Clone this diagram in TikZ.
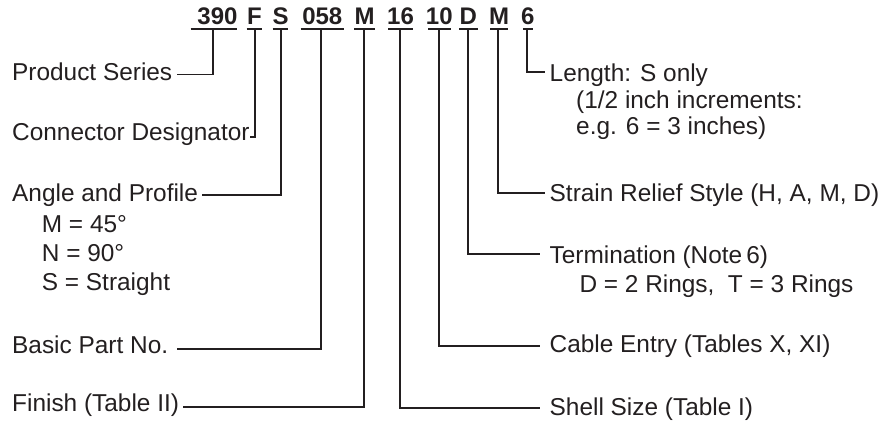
\documentclass[tikz,border=0pt]{standalone}
\usepackage{fontspec}
\setmainfont{Liberation Sans}
\definecolor{ink}{HTML}{231F20}
\begin{document}
\begin{tikzpicture}[x=1pt,y=-1pt,
  code/.style={inner sep=0pt,anchor=base,font=\fontsize{24}{26}\selectfont\bfseries,text=ink},
  lbl/.style={inner sep=0pt,anchor=base west,font=\fontsize{24.4}{28}\selectfont,text=ink},
  uline/.style={draw=ink,line width=1.9pt},
  conn/.style={draw=ink,line width=1.9pt}]
\useasboundingbox (0,0) rectangle (891,422);
% code segments
\node[code] (c390) at (217.5,25) {390};
\node[code] (cF)   at (254.5,25) {F};
\node[code] (cS)   at (280.5,25) {S};
\node[code] (c058) at (322.3,25) {058};
\node[code] (cM)   at (364.5,25) {M};
\node[code] (c16)  at (400.5,25) {16};
\node[code] (c10)  at (439.3,25) {10};
\node[code] (cD)   at (468.3,25) {D};
\node[code] (cM2)  at (499.2,25) {M};
\node[code] (c6)   at (527.8,25) {6};
% underlines
\draw[uline] (190.7,29) -- (237.3,29);
\draw[uline] (246.7,29) -- (262.3,29);
\draw[uline] (272.7,29) -- (288.3,29);
\draw[uline] (300.7,29) -- (344,29);
\draw[uline] (354,29) -- (375,29);
\draw[uline] (388,29) -- (413,29);
\draw[uline] (428,29) -- (450.7,29);
\draw[uline] (459,29) -- (477.7,29);
\draw[uline] (490,29) -- (508.3,29);
\draw[uline] (523,29) -- (532.7,29);
% connector start points
\coordinate (s390) at (213.3,29);
\coordinate (sF)   at (254.7,29);
\coordinate (sS)   at (280.7,29);
\coordinate (s058) at (320.7,29);
\coordinate (sM)   at (364.3,29);
\coordinate (s16)  at (400.3,29);
\coordinate (s10)  at (439.3,29);
\coordinate (sD)   at (468.3,29);
\coordinate (sM2)  at (498.3,29);
\coordinate (s6)   at (526.7,29);
% labels left
\node[lbl] (ps) at (12,80.7) {Product Series};
\node[lbl] (cd) at (12,140.5) {Connector Designator};
\node[lbl] (ap) at (12,201.7) {Angle and Profile};
\node[lbl] (ap1) at (41.7,232.5) {M = 45°};
\node[lbl] (ap2) at (41.7,261.7) {N = 90°};
\node[lbl] (ap3) at (41.7,290.5) {S = Straight};
\node[lbl] (bp) at (12,353.3) {Basic Part No.};
\node[lbl] (fi) at (12,411.7) {Finish (Table II)};
% labels right
\node[lbl] (le) at (549.5,82) {Length: S only};
\node[lbl] (le1) at (576,108.5) {(1/2 inch increments:};
\node[lbl] (le2) at (576,135) {e.g. 6 = 3 inches)};
\node[lbl] (sr) at (549.5,201.7) {Strain Relief Style (H, A, M, D)};
\node[lbl] (te) at (549.5,263.3) {Termination (Note\,6)};
\node[lbl] (te1) at (579.3,292.7) {D = 2 Rings,\ \ T = 3 Rings};
\node[lbl] (ce) at (549.5,352.3) {Cable Entry (Tables X, XI)};
\node[lbl] (ss) at (549.5,415) {Shell Size (Table I)};
% connector ends
\coordinate (eps) at (176.7,74.5);
\coordinate (ecd) at (250,136.7);
\coordinate (eap) at (202.3,195);
\coordinate (ebp) at (176.7,349);
\coordinate (efi) at (183,406.7);
\coordinate (ess) at (540,407.7);
\coordinate (ece) at (540,346);
\coordinate (ete) at (540,254.3);
\coordinate (esr) at (545,193.3);
\coordinate (ele) at (545,72.3);
% connectors
\draw[conn] (s390) |- (eps);
\draw[conn] (sF) |- (ecd);
\draw[conn] (sS) |- (eap);
\draw[conn] (s058) |- (ebp);
\draw[conn] (sM) |- (efi);
\draw[conn] (s16) |- (ess);
\draw[conn] (s10) |- (ece);
\draw[conn] (sD) |- (ete);
\draw[conn] (sM2) |- (esr);
\draw[conn] (s6) |- (ele);
\end{tikzpicture}
\end{document}
